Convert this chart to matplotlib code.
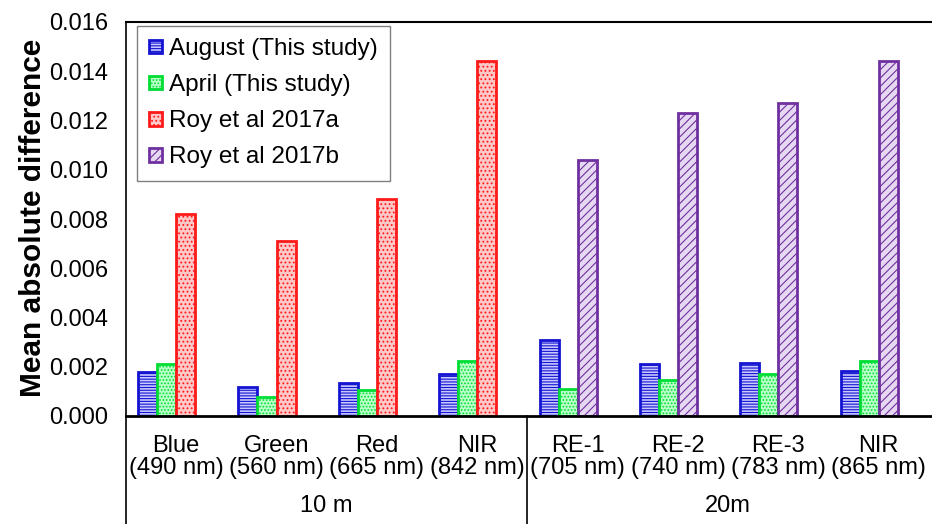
import numpy as np
import matplotlib.pyplot as plt

plt.rcParams['font.family'] = ['Liberation Sans', 'DejaVu Sans']
plt.rcParams['hatch.linewidth'] = 0.8

bands = ['Blue', 'Green', 'Red', 'NIR', 'RE-1', 'RE-2', 'RE-3', 'NIR']
wavelengths = ['(490 nm)', '(560 nm)', '(665 nm)', '(842 nm)',
               '(705 nm)', '(740 nm)', '(783 nm)', '(865 nm)']
groups = ['10 m', '20m']

august = [0.0018, 0.00116, 0.00133, 0.00169, 0.0031, 0.0021, 0.00217, 0.00184]
april = [0.0021, 0.00078, 0.00106, 0.00225, 0.00111, 0.00146, 0.00171, 0.00225]
roy_a = [0.0082, 0.0071, 0.0088, 0.0144]          # 10 m bands
roy_b = [0.0104, 0.0123, 0.0127, 0.0144]          # 20 m bands

fig = plt.figure(figsize=(9.32, 5.24), dpi=100)
ax = fig.add_axes([126 / 932, 1 - 416 / 524, 806 / 932, 394 / 524])

x = np.arange(len(bands))
w = 0.19
ax.bar(x - 1.5 * w, august, w, facecolor='#c8c8ff', edgecolor='#1414d2',
       hatch='------', linewidth=2, label='August (This study)')
ax.bar(x - 0.5 * w, april, w, facecolor='#b8ffc8', edgecolor='#00dd33',
       hatch='.....', linewidth=2, label='April (This study)')
ax.bar(x[:4] + 0.5 * w, roy_a, w, facecolor='#ffc8c8', edgecolor='#ff1a1a',
       hatch='....', linewidth=2, label='Roy et al 2017a')
ax.bar(x[4:] + 0.5 * w, roy_b, w, facecolor='#e6d8f2', edgecolor='#7030a0',
       hatch='////', linewidth=2, label='Roy et al 2017b')

ax.set_xlim(-0.5, 7.53)
ax.set_ylim(0, 0.016)
ax.set_yticks(np.arange(0, 0.0161, 0.002))
ax.set_yticklabels(['%.3f' % v for v in np.arange(0, 0.0161, 0.002)])
ax.tick_params(axis='y', length=0, pad=13, labelsize=17)
ax.set_xticks([])

ax.spines['right'].set_visible(False)
ax.spines['top'].set_linewidth(1.5)
ax.spines['left'].set_linewidth(1.2)
ax.spines['bottom'].set_linewidth(2)

fig.text(0.035, 0.584, 'Mean absolute difference', rotation=90,
         ha='center', va='center', fontsize=21.5, fontweight='bold')

# category table under the axis
tr = ax.get_xaxis_transform()
for i in range(len(bands)):
    ax.text(x[i], -0.075, bands[i], transform=tr, ha='center', va='center',
            fontsize=17)
    ax.text(x[i], -0.133, wavelengths[i], transform=tr, ha='center',
            va='center', fontsize=17)
ax.text(1.5, -0.228, groups[0], transform=tr, ha='center', va='center', fontsize=17)
ax.text(5.5, -0.228, groups[1], transform=tr, ha='center', va='center', fontsize=17)
for xv in [-0.5, 3.5]:
    ax.plot([xv, xv], [0, -0.35], transform=tr, color='black', lw=1.2,
            clip_on=False)

ax.legend(loc='upper left', bbox_to_anchor=(0.014, 0.99), borderaxespad=0,
          fontsize=17.5, handlelength=0.5, handleheight=0.5,
          handletextpad=0.3, labelspacing=0.58, borderpad=0.5,
          fancybox=False, edgecolor='#808080', framealpha=1)

fig.savefig('out.png', dpi=100)
